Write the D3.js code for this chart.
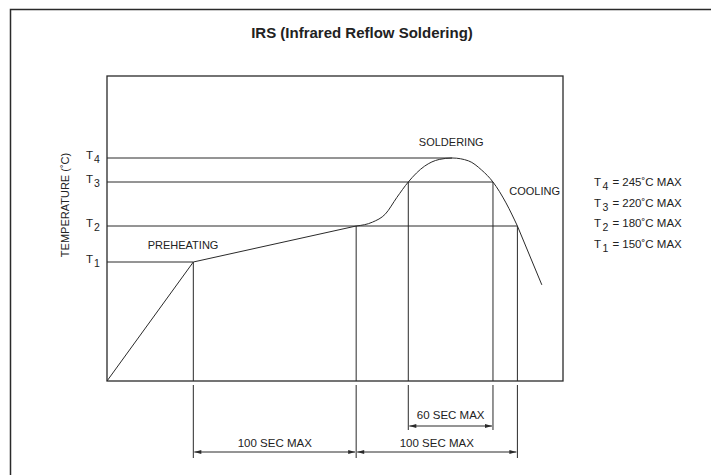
<!DOCTYPE html>
<html>
<head>
<meta charset="utf-8">
<script src="https://cdn.jsdelivr.net/npm/d3@7"></script>
<style>
  body { margin: 0; background: #fff; }
  text { font-family: "Liberation Sans", Arial, sans-serif; fill: #222; }
</style>
</head>
<body>
<div id="chart"></div>
<script>
// reflow profile (time in s, temperature in C) - schematic
const profileTime = [0, 53, 153, 163, 171, 178, 185, 195, 204, 212, 222, 230, 237, 245, 252, 267];
const profileTemp = [25, 150, 180, 183.5, 191, 206, 220, 236.5, 243.5, 245, 242, 232.5, 220, 201, 180, 126];

const levelNames = ["4", "3", "2", "1"];
const levelTemps = [245, 220, 180, 150];
const levelEnds = [212, 237, 252, 53];   // where each level line meets the curve
const legendText = ["= 245˚C MAX", "= 220˚C MAX", "= 180˚C MAX", "= 150˚C MAX"];

// vertical marker lines: time, level they start from, how far the extension goes
const markerTimes = [53, 153, 185, 237, 252];
const markerTemps = [150, 180, 220, 220, 180];
const markerLong = [true, true, false, false, true];

const spans = [
  { from: 53, to: 153, label: "100 SEC MAX", row: 1 },
  { from: 153, to: 252, label: "100 SEC MAX", row: 1 },
  { from: 185, to: 237, label: "60 SEC MAX", row: 0 }
];

const stageLabels = ["PREHEATING", "SOLDERING", "COOLING"];
const stageTime = [25, 191.5, 247];
const stageTemp = [161, 254.5, 208];

const width = 711, height = 475;
const svg = d3.select("#chart").append("svg")
  .attr("width", width).attr("height", height);

const x = d3.scaleLinear().domain([0, 280]).range([107, 563]);
const y = d3.scaleLinear().domain([25, 150, 180, 220, 245, 310]).range([381, 262, 226, 182, 158, 76]);

const ink = "#2a2a2a";

// outer border (runs off the canvas on the right and bottom)
svg.append("rect")
  .attr("x", 10.5).attr("y", 9.5).attr("width", 720).attr("height", 480)
  .attr("fill", "none").attr("stroke", ink).attr("stroke-width", 1.5);

svg.append("text")
  .attr("x", 362).attr("y", 38).attr("text-anchor", "middle")
  .style("font-size", "15px").style("font-weight", "bold")
  .text("IRS (Infrared Reflow Soldering)");

// plot frame
svg.append("rect")
  .attr("x", x(0)).attr("y", y(310))
  .attr("width", x(280) - x(0)).attr("height", y(25) - y(310))
  .attr("fill", "none").attr("stroke", ink).attr("stroke-width", 1.3);

const g = svg.append("g").attr("stroke", ink).attr("stroke-width", 1).attr("fill", "none");

// level lines
levelTemps.forEach((t, i) => {
  g.append("line")
    .attr("x1", x(0)).attr("x2", x(levelEnds[i]))
    .attr("y1", y(t)).attr("y2", y(t));
});

// vertical markers + extensions below the frame
markerTimes.forEach((t, i) => {
  g.append("line")
    .attr("x1", x(t)).attr("x2", x(t))
    .attr("y1", y(markerTemps[i])).attr("y2", y(25));
  g.append("line")
    .attr("x1", x(t)).attr("x2", x(t))
    .attr("y1", y(25) + 4).attr("y2", markerLong[i] ? 458 : 430);
});

// profile curve: straight ramp + soak, smooth reflow part
const pts = profileTime.map((t, i) => [t, profileTemp[i]]);
const straight = d3.line().x(d => x(d[0])).y(d => y(d[1]));
const smooth = d3.line().x(d => x(d[0])).y(d => y(d[1])).curve(d3.curveMonotoneX);
g.append("path").attr("d", straight(pts.slice(0, 3)));
g.append("path").attr("d", smooth(pts.slice(2, 15)));
g.append("path").attr("d", straight(pts.slice(14)));

// dimension arrows
const rowY = [426, 452];
const labelY = [419, 447];
function arrowHead(px, py, dir) {
  svg.append("path")
    .attr("d", `M${px},${py} l${-7 * dir},-2 l0,4 z`)
    .attr("fill", ink);
}
spans.forEach(s => {
  const x1 = x(s.from) + 1, x2 = x(s.to) - 1, yy = rowY[s.row];
  g.append("line").attr("x1", x1).attr("x2", x2).attr("y1", yy).attr("y2", yy);
  arrowHead(x1, yy, -1);
  arrowHead(x2, yy, 1);
  svg.append("text")
    .attr("x", (x(s.from) + x(s.to)) / 2).attr("y", labelY[s.row])
    .attr("text-anchor", "middle").style("font-size", "11.5px")
    .text(s.label);
});

// stage labels
stageLabels.forEach((s, i) => {
  svg.append("text")
    .attr("x", x(stageTime[i])).attr("y", y(stageTemp[i]))
    .style("font-size", "11px")
    .text(s);
});

// T labels on the left
levelTemps.forEach((t, i) => {
  const tx = svg.append("text")
    .attr("x", 86).attr("y", y(t) + 1)
    .style("font-size", "11.5px");
  tx.append("tspan").text("T");
  tx.append("tspan").attr("dy", 4).attr("dx", 1).style("font-size", "10.5px").text(levelNames[i]);
});

// legend on the right
levelTemps.forEach((t, i) => {
  const tx = svg.append("text")
    .attr("x", 594).attr("y", 186 + i * 20.5)
    .style("font-size", "11.5px");
  tx.append("tspan").text("T");
  tx.append("tspan").attr("dy", 4).attr("dx", 1.5).style("font-size", "10.5px").text(levelNames[i]);
  tx.append("tspan").attr("dy", -4).attr("dx", 4).text(legendText[i]);
});

// y axis title
svg.append("text")
  .attr("transform", "translate(69,205) rotate(-90)")
  .attr("text-anchor", "middle").style("font-size", "11px")
  .text("TEMPERATURE (˚C)");
</script>
</body>
</html>
